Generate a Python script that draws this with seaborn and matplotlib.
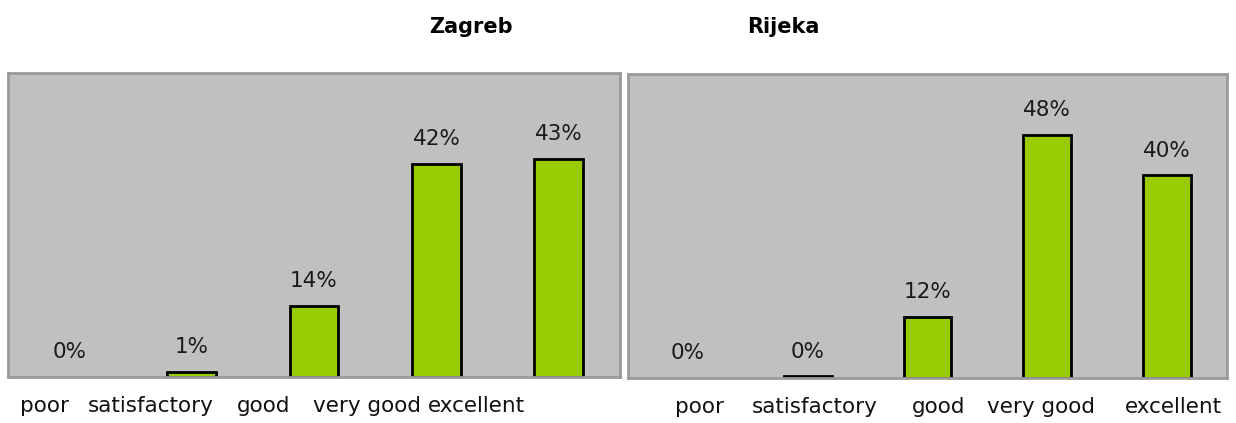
import matplotlib
matplotlib.use("Agg")
import matplotlib.pyplot as plt
import seaborn as sns
import pandas as pd

# Data
categories = ["poor", "satisfactory", "good", "very good", "excellent"]
zagreb = [0, 1, 14, 42, 43]
rijeka = [0, 0.3, 12, 48, 40]

# tick label offsets (the original labels drift off the bars)
zagreb_label_pos = [-0.20, 0.67, 1.59, 2.43, 3.33]
rijeka_label_pos = [0.10, 1.06, 2.09, 2.95, 4.05]

sns.set_theme(style="white")
plt.rcParams['font.family'] = ['Liberation Sans Narrow', 'DejaVu Sans']

fig = plt.figure(figsize=(12.36, 4.23), dpi=100)
ax1 = fig.add_axes([8/1236, 46/423, 612/1236, 304/423])
ax2 = fig.add_axes([628/1236, 45/423, 599/1236, 304/423])

GREEN = "#99cc00"


def draw(ax, values, label_pos):
	df = pd.DataFrame({"cat": categories, "val": values})
	sns.barplot(data=df, x="cat", y="val", order=categories, color=GREEN,
		width=0.4, edgecolor="black", linewidth=2, saturation=1, ax=ax)
	for p in ax.patches:
		if p.get_height() == 0:
			p.set_edgecolor("none")
	for i, v in enumerate(values):
		ax.text(i, v + 4.9, f"{round(v)}%", ha="center", va="center",
			fontsize=15.5, color="#1a1a1a")
	ax.set_facecolor("#c0c0c0")
	ax.set_xlim(-0.5, 4.5)
	ax.set_ylim(0, 60)
	ax.set_yticks([])
	ax.set_xticks(label_pos)
	ax.set_xticklabels(categories, fontsize=15.5, color="#111111")
	ax.tick_params(axis="x", length=0, pad=14)
	ax.set_xlabel("")
	ax.set_ylabel("")
	for s in ax.spines.values():
		s.set_visible(True)
		s.set_color("#9a9a9a")
		s.set_linewidth(2)


draw(ax1, zagreb, zagreb_label_pos)
draw(ax2, rijeka, rijeka_label_pos)

fig.text(471/1236, 1 - 27/423, "Zagreb", ha="center", va="center", fontsize=15, fontweight="bold", color="black")
fig.text(783/1236, 1 - 27/423, "Rijeka", ha="center", va="center", fontsize=15, fontweight="bold", color="black")

fig.savefig("out.png", dpi=100)
